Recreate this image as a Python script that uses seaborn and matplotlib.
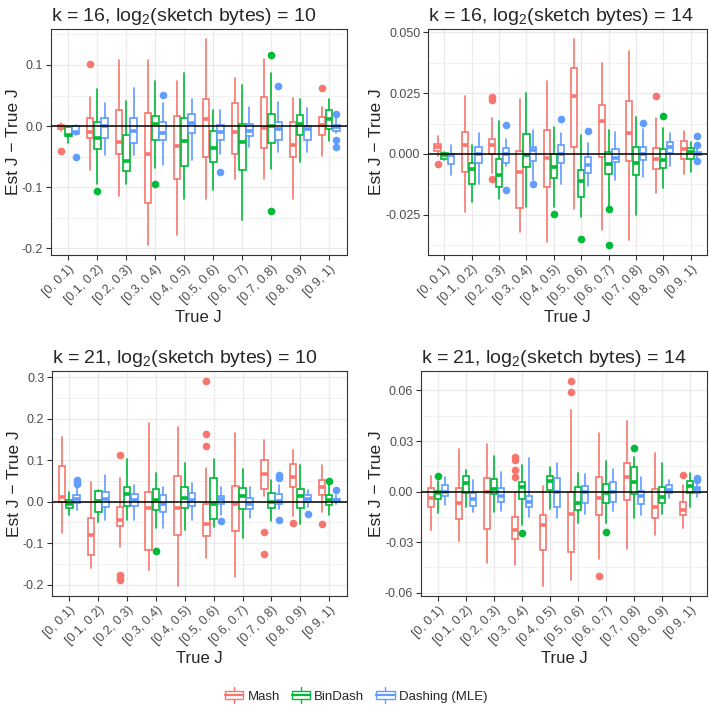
import numpy as np
import matplotlib
matplotlib.use("Agg")
import matplotlib.pyplot as plt
import seaborn as sns
from matplotlib.patches import Patch, Rectangle
from matplotlib.lines import Line2D
from matplotlib.legend_handler import HandlerBase
from matplotlib.ticker import FixedLocator, FormatStrFormatter

# True J bins on the x axis
bins = ["[0, 0.1)", "[0.1, 0.2)", "[0.2, 0.3)", "[0.3, 0.4)", "[0.4, 0.5)",
        "[0.5, 0.6)", "[0.6, 0.7)", "[0.7, 0.8)", "[0.8, 0.9)", "[0.9, 1)"]
methods = ["Mash", "BinDash", "Dashing (MLE)"]
colors = ["#F8766D", "#00BA38", "#619CFF"]

# box stats per bin: (whisker low, q1, median, q3, whisker high); *_out = outliers
# --- k = 16, log2(sketch bytes) = 10 ---
k16_s10_mash = [(-0.008, -0.004, -0.001, 0.002, 0.005), (-0.071, -0.020, -0.010, 0.014, 0.047),
                (-0.115, -0.046, -0.026, 0.026, 0.108), (-0.194, -0.125, -0.046, 0.022, 0.108),
                (-0.178, -0.086, -0.032, 0.016, 0.073), (-0.120, -0.051, 0.011, 0.044, 0.142),
                (-0.086, -0.045, -0.010, 0.037, 0.078), (-0.087, -0.035, -0.003, 0.047, 0.109),
                (-0.119, -0.050, -0.031, 0.006, 0.046), (-0.049, -0.015, 0.002, 0.015, 0.032)]
k16_s10_mash_out = [[-0.040], [0.101], [], [], [], [], [], [], [], [0.063]]
k16_s10_bindash = [(-0.028, -0.016, -0.014, -0.001, 0.000), (-0.095, -0.037, -0.019, 0.006, 0.060),
                   (-0.095, -0.074, -0.057, -0.014, 0.041), (-0.068, -0.022, 0.004, 0.017, 0.074),
                   (-0.120, -0.065, -0.024, 0.013, 0.087), (-0.105, -0.058, -0.036, -0.008, 0.026),
                   (-0.154, -0.072, -0.026, 0.004, 0.067), (-0.070, -0.027, 0.000, 0.019, 0.087),
                   (-0.058, -0.014, 0.003, 0.018, 0.044), (-0.024, -0.004, 0.011, 0.027, 0.044)]
k16_s10_bindash_out = [[], [-0.106], [], [-0.094], [], [], [], [0.117, -0.139], [], []]
k16_s10_dashing = [(-0.015, -0.013, -0.009, 0.000, 0.001), (-0.048, -0.019, 0.000, 0.014, 0.038),
                   (-0.048, -0.028, -0.008, 0.014, 0.062), (-0.064, -0.023, -0.011, 0.006, 0.037),
                   (-0.056, -0.012, 0.005, 0.020, 0.045), (-0.045, -0.022, -0.009, 0.002, 0.026),
                   (-0.034, -0.016, -0.008, 0.004, 0.032), (-0.042, -0.022, -0.004, 0.007, 0.040),
                   (-0.042, -0.022, -0.004, 0.000, 0.030), (-0.012, -0.008, -0.001, 0.002, 0.013)]
k16_s10_dashing_out = [[-0.051], [], [], [0.051], [], [-0.075], [], [0.066], [], [0.019, -0.023, -0.034]]

# --- k = 16, log2(sketch bytes) = 14 ---
k16_s14_mash = [(-0.0010, 0.0010, 0.0030, 0.0040, 0.0075), (-0.0238, -0.0076, 0.0037, 0.0090, 0.0238),
                (-0.0080, 0.0000, 0.0036, 0.0060, 0.0148), (-0.0322, -0.0221, -0.0076, 0.0012, 0.0228),
                (-0.0363, -0.0138, -0.0018, 0.0100, 0.0300), (-0.0225, 0.0028, 0.0239, 0.0352, 0.0472),
                (-0.0315, -0.0011, 0.0134, 0.0203, 0.0376), (-0.0354, -0.0030, 0.0086, 0.0217, 0.0424),
                (-0.0163, -0.0064, -0.0019, 0.0023, 0.0148), (-0.0083, -0.0019, 0.0021, 0.0052, 0.0093)]
k16_s14_mash_out = [[-0.004], [], [0.0235, 0.022, -0.0104], [], [], [], [], [], [0.0238], []]
k16_s14_bindash = [(-0.0025, -0.0020, -0.0006, 0.0003, 0.0008), (-0.0199, -0.0122, -0.0064, -0.0039, 0.0037),
                   (-0.0184, -0.0137, -0.0087, -0.0021, 0.0137), (-0.0218, -0.0052, -0.0004, 0.0080, 0.0251),
                   (-0.0218, -0.0098, -0.0052, 0.0000, 0.0109), (-0.0260, -0.0177, -0.0110, -0.0066, 0.0079),
                   (-0.0218, -0.0083, -0.0041, 0.0006, 0.0097), (-0.0253, -0.0087, -0.0039, 0.0029, 0.0152),
                   (-0.0142, -0.0059, -0.0026, 0.0021, 0.0106), (-0.0075, -0.0022, 0.0006, 0.0026, 0.0051)]
k16_s14_bindash_out = [[], [], [], [], [-0.0249], [-0.0351], [-0.0227, -0.0374], [], [0.0157], []]
k16_s14_dashing = [(-0.0087, -0.0041, -0.0003, 0.0000, 0.0037), (-0.0124, -0.0036, 0.0000, 0.0028, 0.0086),
                   (-0.0050, -0.0039, 0.0000, 0.0023, 0.0060), (-0.0108, -0.0030, 0.0014, 0.0028, 0.0100),
                   (-0.0122, -0.0039, 0.0000, 0.0035, 0.0086), (-0.0133, -0.0080, -0.0046, -0.0014, 0.0044),
                   (-0.0108, -0.0033, -0.0018, 0.0022, 0.0090), (-0.0097, -0.0025, 0.0000, 0.0030, 0.0102),
                   (-0.0048, 0.0003, 0.0028, 0.0051, 0.0088), (-0.0015, -0.0005, 0.0000, 0.0008, 0.0025)]
k16_s14_dashing_out = [[], [], [0.0117, -0.0149], [-0.0122], [0.0145], [0.0095], [], [0.0127], [],
                       [0.0075, 0.0037, -0.0028]]

# --- k = 21, log2(sketch bytes) = 10 ---
k21_s10_mash = [(-0.077, 0.000, 0.011, 0.086, 0.155), (-0.160, -0.130, -0.081, -0.040, 0.046),
                (-0.110, -0.060, -0.044, -0.013, 0.057), (-0.166, -0.116, -0.015, 0.023, 0.189),
                (-0.203, -0.081, -0.015, 0.061, 0.179), (-0.135, -0.084, -0.055, -0.005, 0.080),
                (-0.182, -0.071, -0.006, 0.038, 0.165), (0.013, 0.031, 0.066, 0.100, 0.148),
                (-0.034, 0.035, 0.058, 0.090, 0.124), (-0.025, 0.015, 0.034, 0.052, 0.088)]
k21_s10_mash_out = [[], [], [0.111, -0.178, -0.184, -0.190], [], [], [0.290, 0.163, 0.134], [],
                    [-0.073, -0.127], [-0.051], [-0.053]]
k21_s10_bindash = [(-0.033, -0.015, -0.005, 0.003, 0.022), (-0.049, -0.025, 0.002, 0.026, 0.028),
                   (-0.045, -0.011, 0.019, 0.035, 0.102), (-0.064, -0.021, 0.003, 0.030, 0.070),
                   (-0.068, -0.015, 0.009, 0.035, 0.094), (-0.061, -0.042, -0.007, 0.056, 0.102),
                   (-0.087, -0.018, 0.014, 0.033, 0.078), (-0.048, -0.015, 0.000, 0.021, 0.052),
                   (-0.053, -0.015, 0.014, 0.031, 0.088), (-0.033, -0.008, 0.003, 0.016, 0.044)]
k21_s10_bindash_out = [[], [], [], [-0.120], [], [], [], [], [], [0.050]]
k21_s10_dashing = [(-0.021, -0.003, 0.006, 0.015, 0.035), (-0.045, -0.013, 0.007, 0.023, 0.064),
                   (-0.044, -0.011, 0.003, 0.017, 0.040), (-0.063, -0.026, -0.005, 0.015, 0.035),
                   (-0.044, -0.010, 0.003, 0.021, 0.045), (-0.033, -0.005, 0.006, 0.013, 0.035),
                   (-0.039, -0.019, -0.005, 0.009, 0.035), (-0.017, -0.006, 0.001, 0.018, 0.040),
                   (-0.013, 0.000, 0.007, 0.016, 0.027), (-0.005, 0.001, 0.004, 0.007, 0.015)]
k21_s10_dashing_out = [[0.052, 0.048, 0.042], [], [], [], [], [-0.048], [], [0.063, 0.056, -0.045],
                       [-0.031], [0.027]]

# --- k = 21, log2(sketch bytes) = 14 ---
k21_s14_mash = [(-0.0227, -0.0093, -0.0040, 0.0020, 0.0093), (-0.0292, -0.0164, -0.0065, 0.0020, 0.0250),
                (-0.0424, -0.0223, 0.0000, 0.0083, 0.0280), (-0.0434, -0.0282, -0.0227, -0.0148, 0.0000),
                (-0.0559, -0.0345, -0.0197, -0.0138, 0.0034), (-0.0527, -0.0361, -0.0134, 0.0000, 0.0487),
                (-0.0400, -0.0138, -0.0040, 0.0085, 0.0349), (-0.0341, -0.0049, 0.0089, 0.0172, 0.0418),
                (-0.0260, -0.0154, -0.0089, 0.0018, 0.0231), (-0.0217, -0.0138, -0.0108, -0.0059, 0.0039)]
k21_s14_mash_out = [[], [], [], [0.0207, 0.0187, 0.0128, 0.0089], [], [0.0655, 0.0592], [-0.0499], [],
                    [], [0.0099]]
k21_s14_bindash = [(-0.0128, -0.0045, -0.0010, 0.0006, 0.0060), (-0.0089, -0.0010, 0.0049, 0.0093, 0.0128),
                   (-0.0124, -0.0014, 0.0014, 0.0075, 0.0211), (-0.0197, -0.0045, 0.0030, 0.0059, 0.0158),
                   (-0.0105, 0.0010, 0.0065, 0.0093, 0.0148), (-0.0187, -0.0109, -0.0065, 0.0030, 0.0112),
                   (-0.0187, -0.0065, -0.0010, 0.0043, 0.0184), (-0.0158, -0.0014, 0.0059, 0.0144, 0.0207),
                   (-0.0132, -0.0069, -0.0030, 0.0030, 0.0168), (-0.0089, -0.0010, 0.0036, 0.0065, 0.0109)]
k21_s14_bindash_out = [[0.0093], [], [], [-0.0247], [], [], [-0.0237], [0.0257], [], []]
k21_s14_dashing = [(-0.0079, -0.0024, 0.0000, 0.0037, 0.0089), (-0.0124, -0.0083, -0.0045, -0.0010, 0.0069),
                   (-0.0118, -0.0063, -0.0026, 0.0020, 0.0118), (-0.0148, -0.0089, -0.0059, -0.0026, 0.0197),
                   (-0.0158, -0.0089, 0.0000, 0.0079, 0.0172), (-0.0134, -0.0065, 0.0000, 0.0036, 0.0105),
                   (-0.0118, -0.0059, 0.0000, 0.0055, 0.0132), (-0.0138, -0.0073, -0.0024, 0.0006, 0.0089),
                   (-0.0039, -0.0010, 0.0010, 0.0039, 0.0069), (-0.0030, -0.0010, 0.0016, 0.0030, 0.0060)]
k21_s14_dashing_out = [[], [], [], [], [], [], [], [], [], [0.0083, 0.0069]]

panel_titles = [r"k = 16, log$_2$(sketch bytes) = 10", r"k = 16, log$_2$(sketch bytes) = 14",
                r"k = 21, log$_2$(sketch bytes) = 10", r"k = 21, log$_2$(sketch bytes) = 14"]
panel_yticks = [[-0.2, -0.1, 0.0, 0.1], [-0.025, 0.0, 0.025, 0.05],
                [-0.2, -0.1, 0.0, 0.1, 0.2, 0.3], [-0.06, -0.03, 0.0, 0.03, 0.06]]
panel_yfmt = ["%.1f", "%.3f", "%.1f", "%.2f"]
panel_data = [
    [(k16_s10_mash, k16_s10_mash_out), (k16_s10_bindash, k16_s10_bindash_out), (k16_s10_dashing, k16_s10_dashing_out)],
    [(k16_s14_mash, k16_s14_mash_out), (k16_s14_bindash, k16_s14_bindash_out), (k16_s14_dashing, k16_s14_dashing_out)],
    [(k21_s10_mash, k21_s10_mash_out), (k21_s10_bindash, k21_s10_bindash_out), (k21_s10_dashing, k21_s10_dashing_out)],
    [(k21_s14_mash, k21_s14_mash_out), (k21_s14_bindash, k21_s14_bindash_out), (k21_s14_dashing, k21_s14_dashing_out)],
]

sns.set_theme(style="white")
plt.rcParams['font.family'] = ['Liberation Sans', 'DejaVu Sans']
plt.rcParams['mathtext.fontset'] = 'custom'
plt.rcParams['mathtext.rm'] = 'Liberation Sans'
plt.rcParams['mathtext.it'] = 'Liberation Sans:italic'
plt.rcParams['axes.unicode_minus'] = True

W, H = 709, 707
fig = plt.figure(figsize=(W / 100, H / 100), dpi=100)


def px_rect(l, t, r, b):
    return [l / W, 1 - b / H, (r - l) / W, (b - t) / H]


# panel positions in pixels (left, top, right, bottom)
rects = [(51, 29, 346.5, 255), (428, 29, 707, 255), (52, 371, 346.5, 596), (421, 371, 707, 596)]
offsets = [-0.25, 0.0, 0.25]

for p in range(4):
    ax = fig.add_axes(px_rect(*rects[p]))
    lo_all, hi_all = [], []
    for m in range(3):
        boxes, outs = panel_data[p][m]
        c = colors[m]
        stats = []
        for (lo, q1, med, q3, hi), fl in zip(boxes, outs):
            stats.append(dict(whislo=lo, q1=q1, med=med, q3=q3, whishi=hi, fliers=fl))
            lo_all += [lo] + fl
            hi_all += [hi] + fl
        ax.bxp(stats, positions=np.arange(len(bins)) + offsets[m], widths=0.23,
               patch_artist=True, showcaps=False, manage_ticks=False,
               boxprops=dict(facecolor="white", edgecolor=c, linewidth=1.2),
               whiskerprops=dict(color=c, linewidth=1.2),
               medianprops=dict(color=c, linewidth=2.6, solid_capstyle="butt"),
               flierprops=dict(marker="o", markerfacecolor=c, markeredgecolor="none", markersize=5.5))
    ax.axhline(0, color="black", lw=1.1, zorder=5)

    ymin, ymax = min(lo_all), max(hi_all)
    pad = 0.05 * (ymax - ymin)
    ax.set_ylim(ymin - pad, ymax + pad)
    ax.set_xlim(-0.6, len(bins) - 0.4)

    yt = panel_yticks[p]
    step = yt[1] - yt[0]
    ax.yaxis.set_major_locator(FixedLocator(yt))
    ax.yaxis.set_minor_locator(FixedLocator(np.arange(yt[0] - step * 1.5, yt[-1] + step, step)))
    ax.yaxis.set_major_formatter(FormatStrFormatter(panel_yfmt[p]))
    ax.set_xticks(np.arange(len(bins)))
    ax.set_xticklabels(bins, rotation=45, ha="right", rotation_mode="anchor")

    ax.set_axisbelow(True)
    ax.grid(which="major", color="#EBEBEB", lw=1.0)
    ax.grid(which="minor", axis="y", color="#EBEBEB", lw=0.5)
    for s in ax.spines.values():
        s.set_color("#333333")
        s.set_linewidth(0.8)
    ax.tick_params(axis="both", which="major", length=3.5, width=0.8, color="#333333",
                   labelcolor="#4D4D4D", labelsize=9, pad=2, bottom=True, left=True)
    ax.tick_params(which="minor", length=0)

    ax.set_title(panel_titles[p], loc="left", fontsize=14, pad=6)
    ax.set_xlabel("True J", fontsize=12, labelpad=3)
    ax.set_ylabel("Est J − True J", fontsize=12.5, labelpad=1)


class BoxKey(HandlerBase):
    def create_artists(self, legend, orig_handle, xdescent, ydescent, width, height, fontsize, trans):
        c = orig_handle.get_edgecolor()
        x0, y0 = -xdescent, -ydescent
        cx = x0 + width / 2
        whisk = Line2D([cx, cx], [y0 - 0.2 * height, y0 + 1.2 * height], color=c, lw=1.0, transform=trans)
        box = Rectangle((x0, y0 + 0.15 * height), width, 0.7 * height, facecolor="white",
                        edgecolor=c, lw=1.0, transform=trans)
        med = Line2D([x0, x0 + width], [y0 + 0.5 * height] * 2, color=c, lw=1.6, transform=trans)
        return [whisk, box, med]


handles = [Patch(edgecolor=c, facecolor="white") for c in colors]
fig.legend(handles, methods, handler_map={Patch: BoxKey()}, loc="center",
           bbox_to_anchor=(356 / W, 1 - 696 / H), ncol=3, frameon=False, fontsize=9.5,
           handlelength=1.4, handleheight=1.0, columnspacing=0.9, handletextpad=0.3)

fig.savefig("out.png", dpi=100)
